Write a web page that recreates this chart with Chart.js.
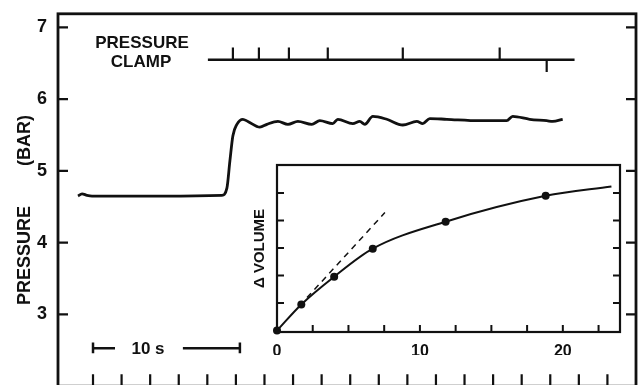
<!DOCTYPE html>
<html>
<head>
<meta charset="utf-8">
<script src="https://cdn.jsdelivr.net/npm/chart.js@4.4.1/dist/chart.umd.min.js"></script>
<style>
  html, body { margin: 0; padding: 0; background: #fff; overflow: hidden; }
  #wrap { position: relative; width: 639px; height: 385px; overflow: hidden; background: #fff; }
  #main { position: absolute; left: 0; top: 0; }
  #inset { position: absolute; left: 245px; top: 155px; }
</style>
</head>
<body>
<div id="wrap">
  <canvas id="main" width="639" height="400"></canvas>
  <canvas id="inset" width="390" height="200"></canvas>
</div>
<script>
// ---- trazo de presion (tiempo en s, presion en bar) ----
const pressureTime = [-1.05, -0.77, -0.42, -0.07, 2, 5, 9.02, 9.37, 9.58, 9.79, 10.07, 10.49, 10.84,
  11.68, 12.17, 12.94, 13.64, 14.34, 15.31, 15.87, 16.78, 17.13, 18.18, 18.67, 19.02, 19.58, 20.56,
  21.68, 22.66, 23.08, 23.57, 24.76, 27.06, 28.95, 29.37, 30.56, 31.75, 32.17, 32.87];
const pressureBar = [4.65, 4.68, 4.66, 4.65, 4.65, 4.65, 4.66, 4.76, 5.14, 5.49, 5.65, 5.72, 5.69,
  5.61, 5.65, 5.69, 5.65, 5.69, 5.65, 5.70, 5.66, 5.72, 5.66, 5.69, 5.65, 5.76, 5.72,
  5.64, 5.69, 5.66, 5.73, 5.72, 5.70, 5.70, 5.76, 5.72, 5.70, 5.69, 5.72];

// marcas del pressure clamp
const clampStart = 8.04;
const clampEnd = 33.7;
const clampLevel = 6.55;
const clampMarksUp = [9.79, 11.61, 13.71, 16.43, 21.68, 28.46];
const clampMarksDown = [31.75];

// barra de escala "10 s"
const scaleBarStart = 0;
const scaleBarEnd = 10.28;

// ejes principales
const xTicks = [0, 2, 4, 6, 8, 10, 12, 14, 16, 18, 20, 22, 24, 26, 28, 30, 32, 34, 36];
const yTicks = [3, 4, 5, 6, 7];

// ---- grafico insertado (delta volumen) ----
const markerX = [0, 1.7, 4.0, 6.7, 11.8, 18.8];
const markerVolume = [0, 0.95, 1.96, 2.98, 3.96, 4.9];
const curveX = [0, 1.7, 4.0, 6.7, 11.8, 18.8, 23.4];
const curveVolume = [0, 0.95, 1.96, 2.98, 3.96, 4.9, 5.24];
const tangentX = [2.1, 7.55];
const tangentVolume = [1.2, 4.29];
const insetXTicks = [0, 2.5, 5, 7.5, 10, 12.5, 15, 17.5, 20, 22.5];
const insetXLabels = [0, 10, 20];
const insetYTicks = [1, 2, 3, 4, 5];

const INK = '#111';
const FONT = '"Liberation Sans", Arial, sans-serif';
Chart.defaults.font.family = FONT;
Chart.defaults.color = INK;

const pts = (xs, ys) => xs.map((v, i) => ({ x: v, y: ys[i] }));

// marco + ticks hacia adentro
const frameTicks = {
  id: 'frameTicks',
  afterDatasetsDraw(chart, args, opts) {
    const { ctx, chartArea: a, scales: { x, y } } = chart;
    ctx.save();
    ctx.strokeStyle = INK;
    ctx.lineWidth = opts.lineWidth;
    ctx.strokeRect(a.left, a.top, a.right - a.left, a.bottom - a.top);
    ctx.lineWidth = opts.tickWidth;
    ctx.beginPath();
    opts.yTicks.forEach(v => {
      const py = y.getPixelForValue(v);
      ctx.moveTo(a.left, py); ctx.lineTo(a.left + opts.yLen, py);
      ctx.moveTo(a.right, py); ctx.lineTo(a.right - opts.yLen, py);
    });
    opts.xTicks.forEach(v => {
      const px = x.getPixelForValue(v);
      ctx.moveTo(px, a.bottom); ctx.lineTo(px, a.bottom - opts.xLen);
    });
    ctx.stroke();
    ctx.restore();
  }
};

// textos sueltos del grafico principal
const mainText = {
  id: 'mainText',
  afterDatasetsDraw(chart) {
    const { ctx, scales: { x, y } } = chart;
    const put = (txt, vx, vy, size) => {
      ctx.font = 'bold ' + size + 'px ' + FONT;
      ctx.fillText(txt, x.getPixelForValue(vx), y.getPixelForValue(vy) + size * 0.36);
    };
    ctx.save();
    ctx.fillStyle = INK;
    ctx.textAlign = 'center';
    ctx.textBaseline = 'alphabetic';
    put('PRESSURE', 3.43, 6.80, 17);
    put('CLAMP', 3.36, 6.53, 17);
    put('10 s', 3.85, 2.53, 17);
    ctx.restore();
  }
};

const clampMarks = [];
clampMarksUp.forEach(t => clampMarks.push({ x: t, y: clampLevel }, { x: t, y: 6.72 }, { x: t, y: null }));
clampMarksDown.forEach(t => clampMarks.push({ x: t, y: clampLevel }, { x: t, y: 6.38 }, { x: t, y: null }));

const scaleBar = [
  { x: scaleBarStart, y: 2.46 }, { x: scaleBarStart, y: 2.61 }, { x: scaleBarStart, y: null },
  { x: scaleBarStart, y: 2.53 }, { x: 1.54, y: 2.53 }, { x: 1.54, y: null },
  { x: 6.29, y: 2.53 }, { x: scaleBarEnd, y: 2.53 }, { x: scaleBarEnd, y: null },
  { x: scaleBarEnd, y: 2.46 }, { x: scaleBarEnd, y: 2.61 }
];

new Chart(document.getElementById('main'), {
  type: 'line',
  data: {
    datasets: [
      { data: pts(pressureTime, pressureBar), borderColor: INK, borderWidth: 2.8, pointRadius: 0, cubicInterpolationMode: 'monotone' },
      { data: [{ x: clampStart, y: clampLevel }, { x: clampEnd, y: clampLevel }], borderColor: INK, borderWidth: 2.5, pointRadius: 0 },
      { data: clampMarks, borderColor: INK, borderWidth: 2.2, pointRadius: 0 },
      { data: scaleBar, borderColor: INK, borderWidth: 2.5, pointRadius: 0 }
    ]
  },
  options: {
    responsive: false,
    animation: false,
    layout: { padding: { top: 8, right: 3, bottom: 8, left: 0 } },
    plugins: {
      legend: { display: false },
      tooltip: { enabled: false },
      frameTicks: { xTicks: xTicks, yTicks: yTicks, lineWidth: 2.8, tickWidth: 2.2, yLen: 10, xLen: 12 }
    },
    scales: {
      x: { type: 'linear', display: false, min: -2.45, max: 38 },
      y: {
        min: 2, max: 7.19,
        afterBuildTicks: s => { s.ticks = yTicks.map(v => ({ value: v })); },
        afterFit: s => { s.width = 58; },
        grid: { display: false },
        border: { display: false },
        ticks: { color: INK, padding: 3, font: { size: 18, weight: 'bold' } },
        title: {
          display: true, text: 'PRESSURE        (BAR)    ', color: INK,
          font: { size: 18, weight: 'bold' }, padding: { top: 14, bottom: 0 }
        }
      }
    }
  },
  plugins: [frameTicks, mainText]
});

new Chart(document.getElementById('inset'), {
  type: 'line',
  data: {
    datasets: [
      { data: pts(curveX, curveVolume), borderColor: INK, borderWidth: 2, pointRadius: 0, cubicInterpolationMode: 'monotone' },
      { data: pts(tangentX, tangentVolume), borderColor: INK, borderWidth: 1.5, borderDash: [6, 5], pointRadius: 0 },
      { data: pts(markerX, markerVolume), showLine: false, pointRadius: 4, pointBackgroundColor: INK, pointBorderWidth: 0, clip: false }
    ]
  },
  options: {
    responsive: false,
    animation: false,
    layout: { padding: { top: 10, right: 15, bottom: 0, left: 0 } },
    plugins: {
      legend: { display: false },
      tooltip: { enabled: false },
      frameTicks: { xTicks: insetXTicks, yTicks: insetYTicks, lineWidth: 2.2, tickWidth: 2, yLen: 7, xLen: 7 }
    },
    scales: {
      x: {
        type: 'linear', min: 0, max: 24,
        afterBuildTicks: s => { s.ticks = insetXTicks.map(v => ({ value: v })); },
        afterFit: s => { s.height = 23; },
        grid: { display: false },
        border: { display: false },
        ticks: {
          color: INK, padding: 2, autoSkip: false, maxRotation: 0,
          font: { size: 16, weight: 'bold' },
          callback: v => insetXLabels.includes(v) ? String(v) : ''
        }
      },
      y: {
        min: -0.05, max: 6.02,
        afterFit: s => { s.width = 32; },
        grid: { display: false },
        border: { display: false },
        ticks: { display: false },
        title: {
          display: true, text: 'Δ VOLUME', color: INK,
          font: { size: 15, weight: 'bold' }, padding: { top: 6, bottom: 0 }
        }
      }
    }
  },
  plugins: [frameTicks]
});
</script>
</body>
</html>
